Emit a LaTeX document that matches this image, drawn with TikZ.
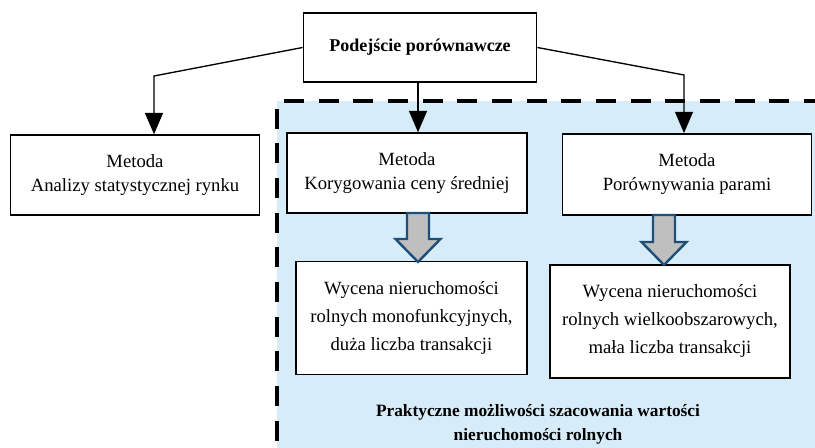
\documentclass[tikz,border=0pt]{standalone}
\usepackage{fontspec}
\setmainfont{Liberation Serif}
\usepackage{tikz}
\usetikzlibrary{arrows.meta}
\definecolor{regionColor}{RGB}{214,236,248}
\definecolor{blockBorder}{RGB}{31,78,121}
\definecolor{blockFill}{RGB}{191,191,191}

\begin{document}
\begin{tikzpicture}[x=0.75pt,y=-0.75pt]

          \tikzstyle{methodBox} = [draw,fill=white,line width=1.1pt,align=center,inner sep=0pt,
                                   font=\fontsize{14}{18}\selectfont];
          \tikzstyle{caseBox} = [methodBox,font=\fontsize{14}{21}\selectfont];
          \tikzstyle{flowEdge} = [line width=1pt,-{Triangle[width=13.5pt,length=16pt]}];
          \tikzstyle{blockArrow} = [draw=blockBorder,fill=blockFill,line width=1.8pt,line join=miter];

          \clip (0,0) rectangle (815,448);
          \fill[white] (0,0) rectangle (815,448);

          \fill[regionColor] (277,101) rectangle (840,470);
          \draw[line width=3pt,dash pattern=on 15pt off 11pt,dash phase=4pt] (277,470) -- (277,101) -- (840,101);

          \node[methodBox,font=\bfseries\fontsize{13.5}{16}\selectfont,minimum width=175pt,minimum height=52pt]
               (top) at (420,47.5) {Podejście porównawcze};
          \node[methodBox,minimum width=187pt,minimum height=60pt] (stat) at (135,175)
               {Metoda\\Analizy statystycznej rynku};
          \node[methodBox,minimum width=180pt,minimum height=60pt] (avg) at (407,173)
               {Metoda\\Korygowania ceny średniej};
          \node[methodBox,minimum width=187pt,minimum height=61pt] (pair) at (687,174.5)
               {Metoda\\Porównywania parami};
          \node[caseBox,minimum width=173pt,minimum height=85pt] (mono) at (411.5,318)
               {Wycena nieruchomości\\rolnych monofunkcyjnych,\\duża liczba transakcji};
          \node[caseBox,minimum width=180pt,minimum height=85pt] (large) at (670,321.5)
               {Wycena nieruchomości\\rolnych wielkoobszarowych,\\mała liczba transakcji};
          \node[align=center,font=\bfseries\fontsize{13}{18}\selectfont] (result) at (538,424)
               {Praktyczne możliwości szacowania wartości\\nieruchomości rolnych};

          \coordinate (bendL) at (154,76);
          \coordinate (bendR) at (684,75);
          \coordinate (tipMono) at (418,262);
          \coordinate (tipLarge) at (664,265);

          \draw[flowEdge] (top.west) -- (bendL) -- (bendL |- stat.north);
          \draw[flowEdge] ([xshift=-1.5pt]top.south) -- ([xshift=-1.5pt]top.south |- avg.north);
          \draw[flowEdge] (top.east) -- (bendR) -- (bendR |- pair.north);

          \draw[blockArrow] (tipMono) -- ++(22.5,-23) -- ++(-11.5,0) -- ++(0,-26) -- ++(-22,0)
               -- ++(0,26) -- ++(-11.5,0) -- cycle;
          \draw[blockArrow] (tipLarge) -- ++(22.5,-23) -- ++(-11.5,0) -- ++(0,-27) -- ++(-22,0)
               -- ++(0,27) -- ++(-11.5,0) -- cycle;
        \end{tikzpicture}
\end{document}
